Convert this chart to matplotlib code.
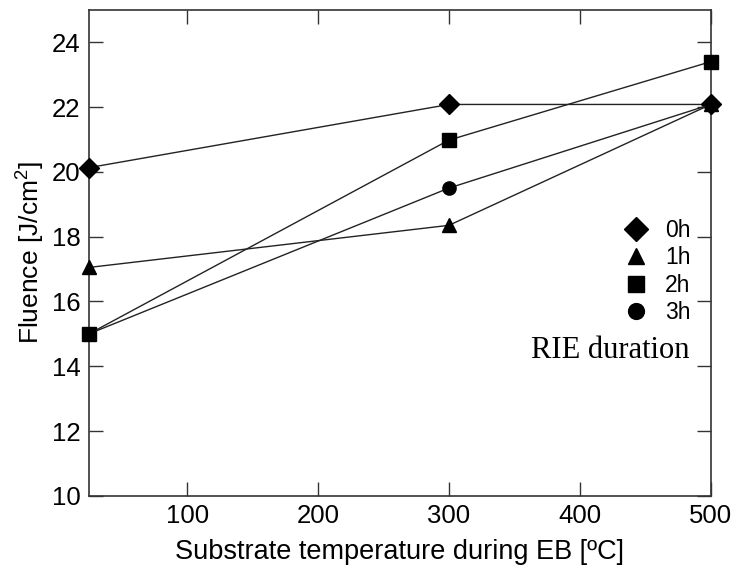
import matplotlib
matplotlib.use('Agg')
import matplotlib.pyplot as plt

# 数据
temperature = [25, 300, 500]
fluence_0h = [20.13, 22.08, 22.08]
fluence_1h = [17.05, 18.35, 22.08]
fluence_2h = [15.0, 20.98, 23.4]
fluence_3h = [15.0, 19.5, 22.08]
series_labels = ['0h', '1h', '2h', '3h']
markers = ['D', '^', 's', 'o']

plt.rcParams['font.family'] = ['Liberation Sans', 'DejaVu Sans']
plt.rcParams['mathtext.fontset'] = 'custom'
plt.rcParams['mathtext.rm'] = 'Liberation Sans'

fig = plt.figure(figsize=(7.35, 5.78), dpi=100)
ax = fig.add_axes([0.121, 0.142, 0.846, 0.841])

series = [fluence_0h, fluence_1h, fluence_2h, fluence_3h]
for values, label, m in zip(series, series_labels, markers):
    ms = 10 if m == 'D' else 9.5
    ax.plot(temperature, values, color='#222222', linewidth=1.0,
            marker=m, markersize=ms, markerfacecolor='black',
            markeredgecolor='black', label=label, clip_on=False, zorder=3)

ax.set_xlim(25, 500)
ax.set_ylim(10, 25)
ax.set_xticks([100, 200, 300, 400, 500])
ax.set_yticks([10, 12, 14, 16, 18, 20, 22, 24])
ax.tick_params(direction='in', length=10, width=1.0, color='#333333',
               top=True, right=True, labelsize=18.5, pad=6)
for s in ax.spines.values():
    s.set_color('#333333')
    s.set_linewidth(1.2)

ax.set_xlabel('Substrate temperature during EB [ºC]', fontsize=19.5, labelpad=8)
ax.set_ylabel('Fluence [J/cm$^2$]', fontsize=19, labelpad=4)

leg = ax.legend(loc='upper right', bbox_to_anchor=(0.968, 0.569), frameon=False,
                handlelength=0, handletextpad=1.3, labelspacing=0.18,
                fontsize=16.5, borderpad=0, borderaxespad=0, markerscale=1.2)
for h in leg.legend_handles:
    h.set_linestyle('none')

ax.text(0.966, 0.3, 'RIE duration', transform=ax.transAxes, ha='right',
        va='center', fontsize=22, family='Liberation Serif')

fig.savefig('out.png', dpi=100)
